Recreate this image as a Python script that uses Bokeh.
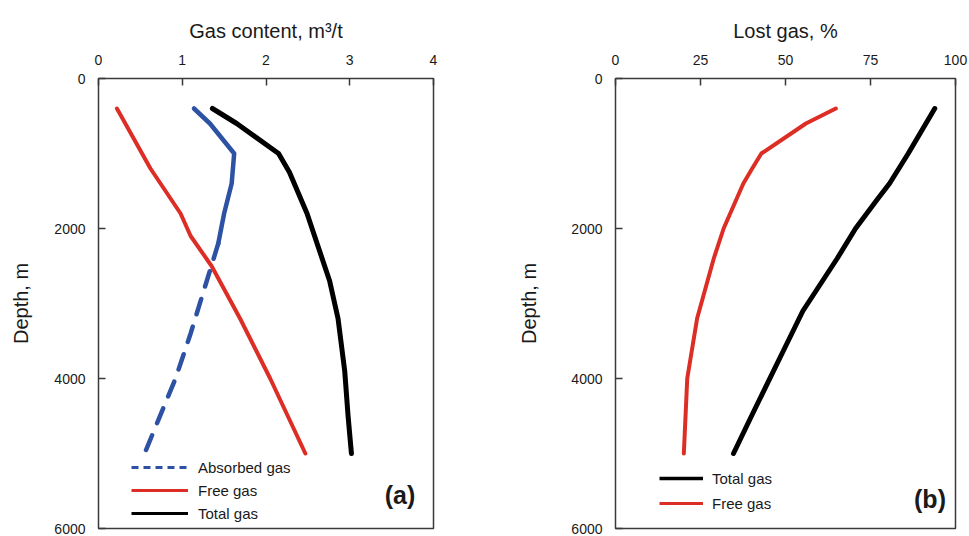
from bokeh.plotting import figure
from bokeh.layouts import row
from bokeh.models import Range1d, FixedTicker, Legend, LegendItem, Label
from bokeh.embed import file_html
from bokeh.resources import INLINE

NAN = float("nan")

# ---------------- data ----------------
# Panel (a): gas content (m3/t) vs depth (m)
free_depth = [400, 800, 1200, 1800, 2100, 2500, 3200, 4000, 5000]
free_gas = [0.22, 0.42, 0.62, 0.98, 1.10, 1.35, 1.69, 2.05, 2.47]

abs_depth_solid = [400, 600, 1000, 1400, 1800, 2200]
abs_gas_solid = [1.14, 1.33, 1.62, 1.59, 1.50, 1.43]
abs_depth_dash = [2200, 3400, 4000, 5000]
abs_gas_dash = [1.43, 1.10, 0.92, 0.55]

total_depth = [400, 600, 1000, 1250, 1800, 2700, 3200, 3900, 4500, 5000]
total_gas = [1.36, 1.65, 2.15, 2.28, 2.49, 2.76, 2.86, 2.94, 2.98, 3.02]

# Panel (b): lost gas (%) vs depth (m)
lost_free_depth = [400, 600, 1000, 1200, 1400, 2000, 2400, 3200, 4000, 5000]
lost_free = [64.8, 56.0, 42.9, 40.2, 37.6, 31.8, 28.9, 24.0, 21.1, 20.1]
lost_total_depth = [400, 1000, 1400, 1600, 2000, 2400, 3100, 3600, 4500, 5000]
lost_total = [93.9, 86.1, 80.6, 77.2, 70.6, 65.2, 55.1, 49.7, 40.0, 34.7]

xticks_a = [0, 1, 2, 3, 4]
xticks_b = [0, 25, 50, 75, 100]
yticks = [0, 2000, 4000, 6000]

RED = "#DD2E26"
BLUE = "#2D52A4"
BLACK = "#000000"
TXT = "#1a1a1a"
FONT = "Liberation Sans"


def style(p, xticks, xlabel, y_label_standoff):
    p.xgrid.visible = False
    p.ygrid.visible = False
    p.outline_line_color = "#3a3a3a"
    p.outline_line_width = 1.5
    p.background_fill_color = "white"
    p.border_fill_color = "white"
    for ax in (p.xaxis[0], p.yaxis[0]):
        ax.axis_line_color = None
        ax.major_tick_in = 7
        ax.major_tick_out = 0
        ax.minor_tick_line_color = None
        ax.major_tick_line_color = "#3a3a3a"
        ax.major_tick_line_width = 1.5
        ax.major_label_text_font = FONT
        ax.major_label_text_font_size = "14px"
        ax.major_label_text_color = TXT
        ax.axis_label_text_font = FONT
        ax.axis_label_text_font_size = "20px"
        ax.axis_label_text_font_style = "normal"
        ax.axis_label_text_color = TXT
    p.xaxis[0].ticker = FixedTicker(ticks=xticks)
    p.yaxis[0].ticker = FixedTicker(ticks=yticks)
    p.xaxis[0].axis_label = xlabel
    p.xaxis[0].major_label_standoff = 14
    p.xaxis[0].axis_label_standoff = 10
    p.yaxis[0].axis_label = "Depth, m"
    p.yaxis[0].major_label_standoff = 13
    p.yaxis[0].axis_label_standoff = y_label_standoff


def legend(p, items, loc, spacing, glyph_width, standoff):
    return Legend(items=items, location=loc, padding=0, margin=0, spacing=spacing,
                  glyph_width=glyph_width, glyph_height=20, label_height=20,
                  label_standoff=standoff, label_text_font=FONT,
                  label_text_font_size="15px", label_text_color=TXT,
                  background_fill_alpha=0, border_line_alpha=0)


# ---------------- panel (a) ----------------
pa = figure(width=515, height=536, output_backend="svg", toolbar_location=None,
            x_axis_location="above", x_range=Range1d(0, 4), y_range=Range1d(6000, 0),
            min_border_left=98, min_border_right=82, min_border_top=78, min_border_bottom=8)
style(pa, xticks_a, "Gas content, m³/t", 19)

pa.line(free_gas, free_depth, line_color=RED, line_width=4, line_cap="round", line_join="round")
pa.line(abs_gas_solid, abs_depth_solid, line_color=BLUE, line_width=4.5, line_cap="round", line_join="round")
pa.line(abs_gas_dash, abs_depth_dash, line_color=BLUE, line_width=4.5, line_dash="16 13", line_cap="round")
pa.line(total_gas, total_depth, line_color=BLACK, line_width=5, line_cap="round", line_join="round")

# legend-only proxies (no visible data), thinner as in the reference key
ka = pa.line([NAN, NAN], [NAN, NAN], line_color=BLUE, line_width=3, line_dash="7 5")
kf = pa.line([NAN, NAN], [NAN, NAN], line_color=RED, line_width=3)
kt = pa.line([NAN, NAN], [NAN, NAN], line_color=BLACK, line_width=3)
pa.add_layout(legend(pa, [LegendItem(label="Absorbed gas", renderers=[ka]),
                          LegendItem(label="Free gas", renderers=[kf]),
                          LegendItem(label="Total gas", renderers=[kt])],
                     (33, 5), 3, 57, 10))
pa.add_layout(Label(x=3.6, y=5550, text="(a)", text_align="center", text_baseline="middle",
                    text_font=FONT, text_font_size="25px", text_font_style="bold", text_color=TXT))

# ---------------- panel (b) ----------------
pb = figure(width=454, height=536, output_backend="svg", toolbar_location=None,
            x_axis_location="above", x_range=Range1d(0, 100), y_range=Range1d(6000, 0),
            min_border_left=100, min_border_right=14, min_border_top=78, min_border_bottom=8)
style(pb, xticks_b, "Lost gas, %", 28)

pb.line(lost_free, lost_free_depth, line_color=RED, line_width=4, line_cap="round", line_join="round")
pb.line(lost_total, lost_total_depth, line_color=BLACK, line_width=5, line_cap="round", line_join="round")

kbt = pb.line([NAN, NAN], [NAN, NAN], line_color=BLACK, line_width=3.5)
kbf = pb.line([NAN, NAN], [NAN, NAN], line_color=RED, line_width=3)
pb.add_layout(legend(pb, [LegendItem(label="Total gas", renderers=[kbt]),
                          LegendItem(label="Free gas", renderers=[kbf])],
                     (44, 15), 5, 44, 9))
pb.add_layout(Label(x=92.5, y=5610, text="(b)", text_align="center", text_baseline="middle",
                    text_font=FONT, text_font_size="25px", text_font_style="bold", text_color=TXT))

layout = row(pa, pb)
open("out.html", "w").write(file_html(layout, INLINE))
